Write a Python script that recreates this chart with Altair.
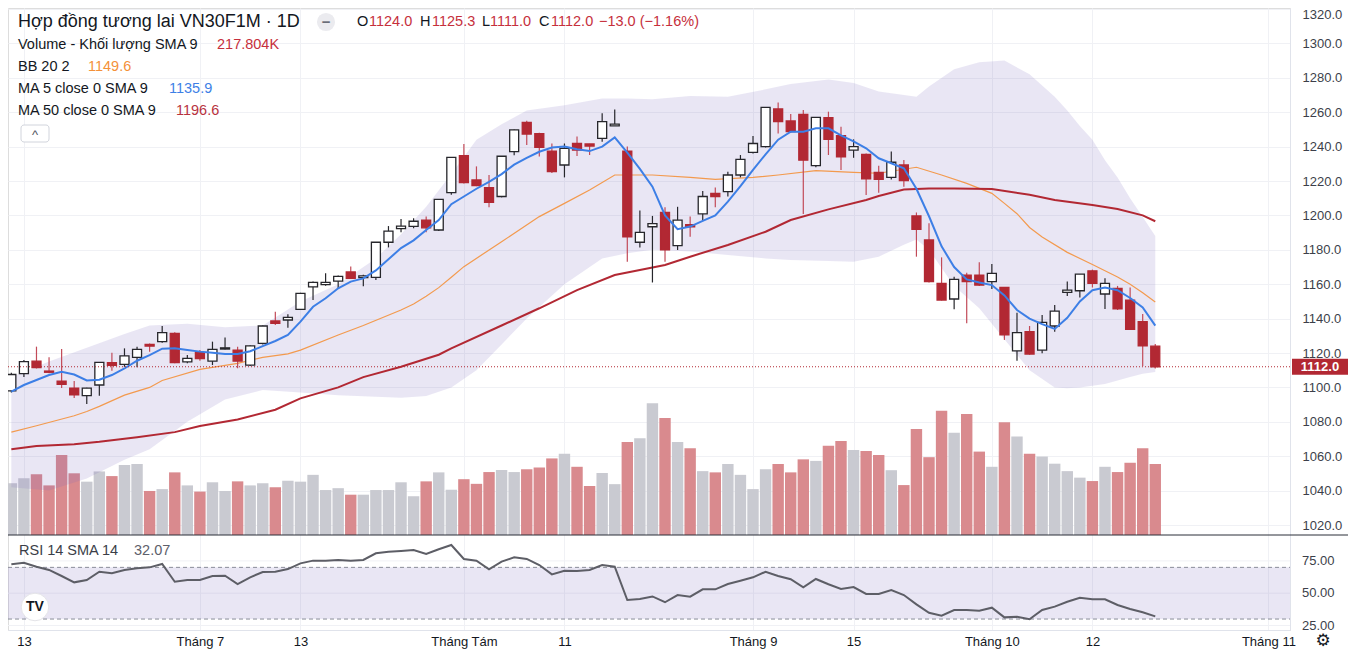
import altair as alt
import pandas as pd

# ---------------- data ----------------
idx = list(range(-1, 91))

opens = [1098, 1108, 1115.3, 1109.5, 1103.7, 1099.5, 1095.2, 1101.4, 1114.4, 1113.4,
         1117.5, 1125, 1126.6, 1131.4, 1114.8, 1120.2, 1115.3, 1122.3, 1121.7, 1113,
         1125.6, 1138.6, 1139.2, 1145.4, 1158.4, 1159.7, 1161.8, 1167.1, 1163.8, 1164,
         1184.4, 1192.3, 1193.6, 1197.3, 1191.5, 1213.2, 1234.7, 1220.6, 1216.2, 1211,
         1237.1, 1254, 1247.6, 1237.4, 1229.3, 1241.8, 1241.5, 1244.8, 1252, 1237.4,
         1184.4, 1193.4, 1201.7, 1182.4, 1194.6, 1200.9, 1212.8, 1213.8, 1223.5, 1236.6,
         1240, 1261.9, 1254.9, 1258.7, 1228.9, 1256.8, 1246.3, 1238, 1235.5, 1225,
         1222.1, 1229.3, 1199.7, 1185.7, 1160.5, 1151.4, 1165.3, 1165.2, 1161.5, 1158.1,
         1121.2, 1132.4, 1121.7, 1135.7, 1155.2, 1156.2, 1167.8, 1154.3, 1157.6, 1150.8,
         1138.2, 1124]
highs = [1108.5, 1116, 1123.7, 1117.5, 1122.3, 1103.7, 1099.8, 1114.8, 1120.2, 1122.7,
         1123.7, 1125.5, 1135.7, 1132, 1118.8, 1121.7, 1126.6, 1129, 1123.7, 1124.5,
         1136, 1144, 1142.5, 1155, 1161.5, 1166.3, 1165, 1170.3, 1165.5, 1184.5,
         1193.8, 1197.9, 1198.3, 1199.3, 1209.5, 1234, 1241.5, 1228.5, 1223.5, 1234.5,
         1250, 1255, 1248, 1241.8, 1241.8, 1245.9, 1241.6, 1259.4, 1261.6, 1240,
         1202.9, 1199.7, 1204.8, 1205, 1199.3, 1214.2, 1216.2, 1225.4, 1235.1, 1246.2,
         1263, 1265.7, 1258.9, 1261.3, 1257, 1260.3, 1251.6, 1244.2, 1236, 1228.8,
         1237.2, 1232.2, 1201.7, 1195.4, 1175.6, 1164.4, 1166.7, 1172.7, 1171.7, 1158.3,
         1143.4, 1135.7, 1142.1, 1147.9, 1161.5, 1166, 1168.5, 1163.4, 1159, 1158.1,
         1142.7, 1125.3]
lows = [1097, 1106, 1111, 1108.3, 1099.6, 1093.8, 1090.3, 1095.2, 1109.7, 1112,
        1111.7, 1120.8, 1126, 1114, 1114, 1115.5, 1113, 1122, 1111.1, 1112.5,
        1125, 1136.3, 1134.7, 1145, 1150.8, 1159.1, 1157.5, 1163, 1158.8, 1162.4,
        1181.4, 1190.2, 1192.5, 1190.2, 1191, 1212, 1218.5, 1217, 1204.8, 1210.5,
        1235, 1240.9, 1234.3, 1224.7, 1222.1, 1234.5, 1235.1, 1242.8, 1252, 1173.1,
        1181.4, 1161, 1173.1, 1179.9, 1187.6, 1197.3, 1204.8, 1211, 1222.1, 1236,
        1239.5, 1247.6, 1248, 1200.8, 1228, 1235.1, 1226.4, 1233.5, 1211.9, 1213.2,
        1220.9, 1216.7, 1176, 1161, 1150.5, 1145.4, 1137.3, 1159, 1157.2, 1127.6,
        1115.5, 1119, 1119.8, 1132.4, 1153.1, 1152.3, 1158.1, 1145.6, 1145, 1133.5,
        1112.4, 1111]
closes = [1107.5, 1115, 1111.5, 1108.8, 1101.8, 1095.6, 1099.6, 1114.6, 1112.8, 1118.3,
          1122.1, 1124, 1131.8, 1114.4, 1116.9, 1116.7, 1122.1, 1123, 1115.3, 1124.2,
          1135.7, 1137.3, 1140.7, 1154.7, 1161.1, 1161.1, 1164.6, 1163.4, 1164.8, 1184.4,
          1190.9, 1193.8, 1196.6, 1192.8, 1209.3, 1233.7, 1219, 1217.3, 1207.6, 1234.4,
          1249.7, 1247.3, 1239.5, 1225.4, 1239, 1238, 1240.3, 1254.5, 1253.1, 1187.6,
          1190.1, 1195.2, 1179.9, 1197.3, 1193.4, 1211, 1211, 1223.5, 1232.6, 1241.8,
          1262.8, 1254.5, 1248.7, 1232.1, 1257, 1244.2, 1234.1, 1240, 1221.2, 1220.9,
          1230.9, 1220.2, 1191.9, 1161.5, 1150.8, 1162.8, 1161.5, 1159.5, 1166.3, 1130.5,
          1131.8, 1119.4, 1137.8, 1144.4, 1156.6, 1165.9, 1160.5, 1160.5, 1145.6, 1133.8,
          1124.1, 1112]
volumes = [167, 183, 196, 160, 258, 199, 172, 205, 190, 226,
           229, 142, 148, 202, 160, 140, 170, 142, 173, 160,
           167, 154, 175, 172, 194, 145, 151, 130, 130, 145,
           145, 170, 125, 173, 202, 146, 180, 165, 203, 210,
           203, 212, 218, 247, 262, 220, 158, 200, 164, 300,
           312, 425, 377, 300, 280, 206, 202, 229, 194, 148,
           212, 229, 202, 244, 239, 288, 303, 274, 271, 258,
           209, 161, 342, 251, 401, 330, 390, 269, 220, 364,
           318, 262, 253, 230, 206, 185, 174, 220, 203, 233,
           280, 229]
ma5 = [1097.5, 1101.4, 1104.3, 1107.2, 1109.1, 1107.5, 1104.0, 1104.5, 1107.2, 1111.0,
       1115.5, 1118.8, 1122.5, 1122.7, 1121.7, 1120.8, 1120.2, 1119.4, 1119.4, 1121.0,
       1124.0, 1127.0, 1130.5, 1138.2, 1146.9, 1151.8, 1157.6, 1161.5, 1163.4, 1168.0,
       1174.5, 1181.0, 1185.5, 1191.5, 1197.3, 1206.5, 1211.0, 1215.5, 1219.5, 1224.0,
       1229.5, 1233.5, 1237.0, 1239.5, 1240.0, 1238.5, 1237.4, 1240.0, 1245.3, 1236.5,
       1227.0, 1216.7, 1200.0, 1192.0, 1193.5, 1196.8, 1200.0, 1208.0, 1217.0, 1226.5,
       1235.5, 1244.0, 1248.7, 1248.7, 1250.6, 1250.6, 1246.5, 1243.0, 1239.0, 1233.2,
       1230.3, 1227.4, 1215.5, 1199.5, 1182.0, 1170.0, 1162.8, 1161.0, 1159.5, 1153.5,
       1145.0, 1140.0, 1136.8, 1134.0, 1140.5, 1150.0, 1156.5, 1158.0, 1156.5, 1152.0,
       1146.5, 1135.9]
rsi = [72.4, 73.6, 70.5, 68, 63.3, 58.4, 60.2, 66.6, 65.4, 68,
       69.3, 70, 72.6, 58.9, 60.2, 60.2, 63.3, 63.5, 57.1, 62.3,
       66.4, 66.6, 68.7, 73.1, 75.2, 75.2, 75.7, 75.2, 75.7, 80.9,
       82.1, 82.7, 83.4, 80.3, 84, 87.3, 76.5, 75.2, 68.5, 74.4,
       77.8, 76.5, 71.8, 64.6, 67.4, 67.2, 68, 71.8, 70.5, 44.7,
       45.5, 47.5, 43, 48.6, 47.3, 53, 53, 57.1, 59.7, 62.3,
       66.6, 63.3, 60.8, 54.6, 61, 56.9, 53.3, 54.8, 49.4, 49.4,
       52.5, 48.6, 41.4, 34.9, 32.6, 37, 37, 36.5, 38.8, 31.3,
       31.8, 29.8, 37, 39.6, 43.4, 46.5, 45.3, 45.3, 40.9, 37.8,
       35.2, 32.07]

ma50_idx = [-1, 1, 4, 6, 9, 12, 14, 17, 20, 22, 25, 27, 30, 33, 34, 38, 41, 44, 47, 51,
            53, 56, 59, 61, 64, 67, 68, 70, 72, 74, 77, 80, 82, 85, 87, 89, 90]
ma50 = [1064, 1066, 1067, 1068.4, 1071, 1074, 1077.6, 1081.4, 1087, 1093.6,
        1100, 1106, 1112, 1119, 1122.7, 1136, 1146, 1156.6, 1165.3, 1171.2,
        1176, 1182.8, 1190.5, 1197.3, 1203.5, 1209, 1211.3, 1215, 1215.7, 1215.7,
        1215.3, 1212, 1209, 1206, 1203.7, 1200, 1196.6]

mid_idx = [-1, 1, 4, 5, 6, 8, 10, 11, 14, 17, 19, 21, 22, 25, 27, 30, 31, 32, 33, 34,
           35, 38, 41, 43, 45, 47, 50, 53, 55, 58, 60, 63, 66, 68, 71, 73, 75, 77, 78, 79,
           80, 81, 83, 85, 87, 88, 89, 90]
bb_mid = [1074, 1077.7, 1083.5, 1086, 1089, 1095.5, 1100, 1104, 1110.5, 1114,
          1117.5, 1119.5, 1121.7, 1130.5, 1136, 1145, 1148.5, 1153, 1158, 1164,
          1170.2, 1184.7, 1199.3, 1207, 1214.8, 1223.5, 1223.5, 1222.1, 1220.9, 1222.1,
          1223.5, 1226, 1225, 1224.5, 1228, 1223.5, 1218.6, 1212.8, 1207, 1201,
          1193, 1187.5, 1178.5, 1171.5, 1164.2, 1160, 1155, 1149.6]

band_idx = [-1, 2, 5, 8, 10, 13, 16, 19, 22, 25, 28, 30, 32, 34, 36, 38, 40, 43, 46, 48,
            50, 53, 56, 59, 61, 64, 66, 68, 70, 71, 72, 74, 76, 78, 80, 82, 83, 84, 85, 86,
            87, 88, 89, 90]
bb_upper = [1106, 1115, 1123, 1131, 1136, 1137, 1135, 1136, 1150, 1160,
            1175, 1189, 1205, 1224, 1244, 1253, 1261, 1264, 1268, 1268,
            1267.5, 1269.4, 1269, 1273.3, 1276.4, 1279, 1277, 1272, 1270, 1269,
            1275, 1285, 1289, 1290, 1282, 1269, 1261, 1252, 1244, 1232,
            1222, 1210, 1199, 1188]
bb_lower = [1042, 1040, 1047, 1058, 1064, 1080, 1093, 1098.5, 1097, 1095.5,
            1094.5, 1094, 1095, 1100, 1110, 1125, 1140, 1160, 1175, 1178,
            1180, 1179, 1177, 1175, 1174, 1173.5, 1173, 1176, 1183, 1186,
            1180, 1159, 1146, 1128, 1110, 1100, 1099.5, 1100, 1101, 1102,
            1104, 1106, 1108, 1109]

tick_idx = [0, 14, 22, 35, 43, 58, 66, 77, 85, 99]
tick_labels = ['13', 'Tháng 7', '13', 'Tháng Tám', '11', 'Tháng 9', '15', 'Tháng 10', '12', 'Tháng 11']
price_ticks = list(range(1020, 1321, 20))
rsi_ticks = [25, 50, 75]
rsi_levels = [70, 30]

# ---------------- layout / style ----------------
W, H = 1282, 622          # one plot area: price+volume pane on top, RSI pane below
H_TOP = 527               # bottom of the price/volume pane
X_DOM = [-0.868, 100.32]
P_DOM = [958.96, 1320.58]
V_DOM = [-306.5, 1700]
R_DOM = [21.52, 502.94]
FONT = 'Liberation Sans'
GRID = '#f0f1f5'
RED = '#b22833'
TXT = '#131722'
UP = 'datum.c >= datum.o'

df = pd.DataFrame({'i': idx, 'o': opens, 'h': highs, 'l': lows, 'c': closes,
                   'v': volumes, 'ma5': ma5, 'rsi': rsi})
band_df = pd.DataFrame({'i': band_idx, 'up': bb_upper, 'lo': bb_lower})
mid_df = pd.DataFrame({'i': mid_idx, 'mid': bb_mid})
ma50_df = pd.DataFrame({'i': ma50_idx, 'ma50': ma50})
last_df = pd.DataFrame({'p': [closes[-1]]})
one = pd.DataFrame({'k': [0]})

xs = alt.Scale(domain=X_DOM, nice=False, zero=False)
ps = alt.Scale(domain=P_DOM, nice=False, zero=False)
rs = alt.Scale(domain=R_DOM, nice=False, zero=False)

expr = "'" + tick_labels[-1] + "'"
for v, lab in reversed(list(zip(tick_idx[:-1], tick_labels[:-1]))):
    expr = f"datum.value == {v} ? '{lab}' : " + expr
AX_X = alt.Axis(values=tick_idx, labelExpr=expr, grid=True, gridColor=GRID, ticks=False,
                domain=True, domainColor='#e0e3eb', labelFontSize=13, labelColor=TXT,
                labelFont=FONT, labelPadding=5, labelOverlap=False, title=None)
AX_P = alt.Axis(orient='right', values=price_ticks, format='.1f', grid=True, gridColor=GRID,
                ticks=False, domain=True, domainColor='#e0e3eb', labelPadding=12,
                labelFontSize=13, labelColor='#3c3f4a', labelFont=FONT, labelOverlap=False,
                labelFlush=6, title=None)

XX = alt.X('i:Q', scale=xs, axis=AX_X)


def P(field):
    return alt.Y(f'{field}:Q', scale=ps, axis=AX_P)


def R(field):
    return alt.Y(f'{field}:Q', scale=rs, axis=None)


def txt(s, x, y, color, size=14.5, weight='normal', align='left', font=FONT):
    return alt.Chart(one).mark_text(text=s, align=align, baseline='middle', fontSize=size,
                                    color=color, font=font, fontWeight=weight).encode(
        x=alt.value(x), y=alt.value(y))


# ---------------- volume ----------------
vol = alt.Chart(df).mark_bar(size=11.4).encode(
    x=XX,
    y=alt.Y('v:Q', scale=alt.Scale(domain=V_DOM, nice=False, zero=False), axis=None),
    y2=alt.datum(0),
    color=alt.condition(UP, alt.value('#c9cad1'), alt.value('#d98a8e')))

# ---------------- price ----------------
band = alt.Chart(band_df).mark_area(color='#7a6cc0', opacity=0.17).encode(
    x=XX, y=P('lo'), y2='up:Q')
mid_line = alt.Chart(mid_df).mark_line(color='#f39a4e', strokeWidth=1.2).encode(x=XX, y=P('mid'))
ma50_line = alt.Chart(ma50_df).mark_line(color=RED, strokeWidth=2).encode(x=XX, y=P('ma50'))
ma5_line = alt.Chart(df).mark_line(color='#3d7fe6', strokeWidth=2).encode(x=XX, y=P('ma5'))
wicks = alt.Chart(df).mark_rule(strokeWidth=1.2).encode(
    x=XX, y=P('l'), y2='h:Q',
    color=alt.condition(UP, alt.value('#26262b'), alt.value('#c24a58')))
bodies = alt.Chart(df).mark_bar(size=9, strokeWidth=1.3).encode(
    x=XX, y=P('o'), y2='c:Q',
    fill=alt.condition(UP, alt.value('white'), alt.value(RED)),
    stroke=alt.condition(UP, alt.value('#26262b'), alt.value(RED)))
last_line = alt.Chart(last_df).mark_rule(color=RED, strokeDash=[1, 2], strokeWidth=1).encode(
    y=P('p'), x=alt.value(0), x2=alt.value(W))
last_box = alt.Chart(last_df).mark_rule(color=RED, strokeWidth=16, strokeCap='butt').encode(
    y=P('p'), x=alt.value(W + 2), x2=alt.value(W + 58))
last_txt = alt.Chart(last_df).mark_text(color='white', fontWeight='bold', fontSize=13,
                                        font=FONT, align='center', baseline='middle').encode(
    y=P('p'), x=alt.value(W + 30), text=alt.Text('p:Q', format='.1f'))
price_group = alt.layer(band, mid_line, ma50_line, wicks, bodies, ma5_line,
                        last_line, last_box, last_txt)

# ---------------- RSI ----------------
rsi_band = alt.Chart(pd.DataFrame({'lo': [rsi_levels[1]], 'hi': [rsi_levels[0]]})).mark_rect(
    color='#7a6cc0', opacity=0.17).encode(
    x=alt.value(0), x2=alt.value(W), y=R('lo'), y2='hi:Q')
rsi_tick_df = pd.DataFrame({'r': rsi_ticks})
rsi_grid = alt.Chart(rsi_tick_df).mark_rule(color=GRID).encode(
    y=R('r'), x=alt.value(0), x2=alt.value(W))
rsi_rules = alt.Chart(pd.DataFrame({'lvl': rsi_levels})).mark_rule(
    color='#8a8d99', strokeDash=[4, 3], strokeWidth=1).encode(
    y=R('lvl'), x=alt.value(0), x2=alt.value(W))
rsi_line = alt.Chart(df).mark_line(color='#5d5e66', strokeWidth=2).encode(x=XX, y=R('rsi'))
rsi_axis_txt = alt.Chart(rsi_tick_df).mark_text(
    align='left', baseline='middle', fontSize=13, font=FONT, color='#3c3f4a').encode(
    y=R('r'), x=alt.value(W + 12), text=alt.Text('r:Q', format='.2f'))
rsi_group = alt.layer(rsi_grid, rsi_band, rsi_rules, rsi_line, rsi_axis_txt)

# ---------------- decorations / legends ----------------
sep = alt.Chart(one).mark_rule(color='#2a2e39', strokeWidth=1).encode(
    x=alt.value(0), x2=alt.value(W + 58), y=alt.value(H_TOP))
btn = alt.Chart(one).mark_circle(size=330, color='#ebebef', opacity=1).encode(
    x=alt.value(318), y=alt.value(14))
caret_box = alt.Chart(one).mark_rect(fill='white', stroke='#d1d4dc', cornerRadius=3).encode(
    x=alt.value(13), x2=alt.value(41), y=alt.value(117), y2=alt.value(134))
logo = alt.Chart(one).mark_circle(size=760, color='white', opacity=1, stroke='#e4e4e8',
                                  strokeWidth=1).encode(x=alt.value(27), y=alt.value(599))
decor = [
    sep, btn, caret_box, logo,
    txt('Hợp đồng tương lai VN30F1M · 1D', 10, 14, TXT, 18),
    txt('−', 318, 14, '#6a6d78', 15, 'bold', 'center'),
    txt('O', 349, 14, TXT), txt('1124.0', 361, 14, '#c62f3c'),
    txt('H', 412, 14, TXT), txt('1125.3', 424, 14, '#c62f3c'),
    txt('L', 474, 14, TXT), txt('1111.0', 482, 14, '#c62f3c'),
    txt('C', 531, 14, TXT), txt('1112.0', 543, 14, '#c62f3c'),
    txt('−13.0 (−1.16%)', 591, 14, '#c62f3c'),
    txt('Volume - Khối lượng SMA 9', 10, 37, TXT), txt('217.804K', 209, 37, '#c62f3c'),
    txt('BB 20 2', 10, 59, TXT), txt('1149.6', 80, 59, '#f4913a'),
    txt('MA 5 close 0 SMA 9', 10, 81, TXT), txt('1135.9', 161, 81, '#3d7fe6'),
    txt('MA 50 close 0 SMA 9', 10, 103, TXT), txt('1196.6', 168, 103, '#b8323e'),
    txt('^', 27, 127, '#50535e', 13, 'normal', 'center'),
    txt('RSI 14 SMA 14', 11, H_TOP + 16, '#3b3e48'),
    txt('32.07', 126, H_TOP + 16, '#5d606b'),
    txt('TV', 27, 599, TXT, 14, 'bold', 'center'),
    txt('⚙', W + 33, H + 11, TXT, 17, 'normal', 'center', 'DejaVu Sans'),
]

chart = alt.layer(vol, price_group, rsi_group, *decor).resolve_scale(
    y='independent').properties(
    width=W, height=H,
    autosize=alt.AutoSizeParams(type='none'),
    padding={'left': 0, 'top': 0, 'right': 59, 'bottom': 30},
).configure_view(strokeWidth=0).configure(background='white')

chart.save("out.html", embed_options={"renderer": "svg", "actions": False})
